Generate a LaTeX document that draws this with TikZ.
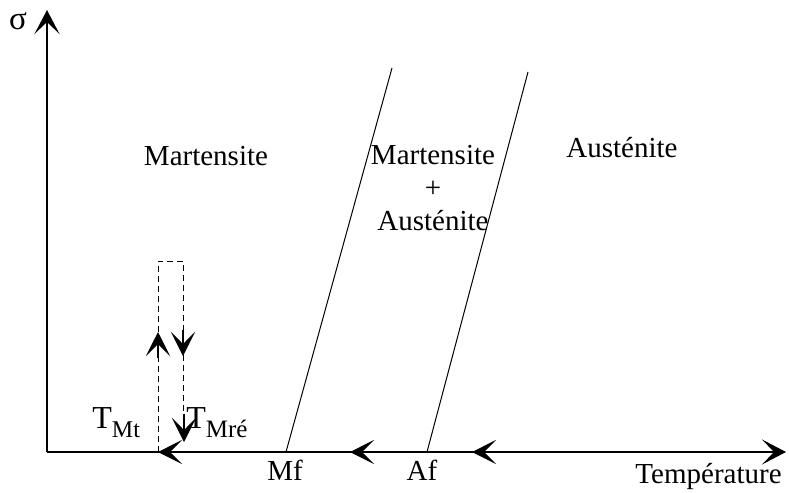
\documentclass[tikz,border=0pt]{standalone}
\usepackage{fontspec}
\setmainfont{Liberation Serif}
\usetikzlibrary{arrows.meta,calc,positioning}

\begin{document}
\begin{tikzpicture}[
  x=0.5pt,
  y=-0.5pt,
  >={Stealth[length=12pt,width=12.5pt,inset=6pt]},
  axis/.style={draw=black,line width=0.8pt},
  phase line/.style={draw=black,line width=0.5pt},
  cycle path/.style={draw=black,line width=0.5pt,dash pattern=on 3pt off 2pt},
  chev/.style={-{Stealth[length=12pt,width=12pt,inset=6pt]},line width=0.6pt},
  label/.style={font=\fontsize{14.5}{16.5}\selectfont,inner sep=0pt},
  temp label/.style={font=\fontsize{16}{18}\selectfont,inner sep=0pt}
]
  \useasboundingbox (0,0) rectangle (789,493);

  % axes
  \coordinate (O) at (47,452);
  \coordinate (ytop) at (47,10);
  \coordinate (xend) at (786,452);
  \draw[axis,->] (O) -- (ytop);
  \draw[axis,->] (O) -- (xend);
  \node[font=\fontsize{16.5}{18}\selectfont,inner sep=0pt] (sigma) at (18,21) {σ};
  \node[label,anchor=base east] (temp) at (782,483) {Température};

  % phase boundaries
  \coordinate (mf) at (286,452);
  \coordinate (mftop) at (392,68);
  \coordinate (af) at (427,452);
  \coordinate (aftop) at (528,72);
  \draw[phase line] (mf) -- (mftop);
  \draw[phase line] (af) -- (aftop);
  \node[label,anchor=base] (mflab) at (285,480) {Mf};
  \node[label,anchor=base] (aflab) at (422,480) {Af};

  % domains
  \node[label,anchor=base] (mart) at (206,165) {Martensite};
  \node[label,align=center] (mix) at (433,188) {Martensite\\+\\Austénite};
  \node[label,anchor=base] (aust) at (622,157) {Austénite};

  % cooling along the axis
  \coordinate (a1) at (350,452);
  \coordinate (a2) at (472,452);
  \draw[chev] ($(a2)+(28,0)$) -- (a2);
  \draw[chev] ($(a1)+(28,0)$) -- (a1);

  % loading cycle
  \coordinate (tmt) at (158,452);
  \coordinate (d1) at (158,261);
  \coordinate (d2) at (183,261);
  \coordinate (d3) at (184,442);
  \draw[cycle path] (tmt) -- (d1) -- (d2) -- (183,430);
  \coordinate (up) at (158,332);
  \coordinate (down) at (183,356);
  \draw[chev] ($(up)+(0,26)$) -- (up);
  \draw[chev] ($(down)+(0,-26)$) -- (down);
  \draw[chev] ($(d3)+(0,-28)$) -- (d3);
  \draw[chev] ($(tmt)+(28,0)$) -- (tmt);

  \node[temp label,anchor=base west] (tmtlab) at (92,428) {T\raisebox{-4.5pt}{\fontsize{12}{14}\selectfont Mt}};
  \node[temp label,anchor=base west] (tmrlab) at (186,428) {T\raisebox{-4.5pt}{\fontsize{12.5}{14}\selectfont Mré}};
\end{tikzpicture}
\end{document}
